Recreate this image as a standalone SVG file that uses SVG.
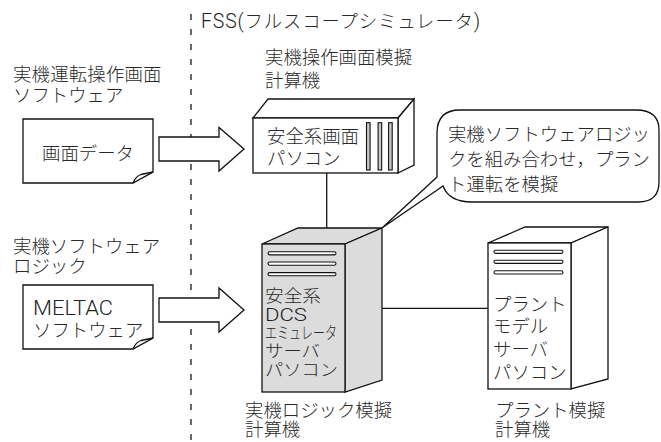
<svg xmlns="http://www.w3.org/2000/svg" width="661" height="442" viewBox="0 0 661 442">
  <style>
    text { font-family: "Liberation Sans", "Noto Sans CJK JP", sans-serif; font-size: 18.4px; font-weight: 300; fill: #2a2a2a; }
    .lat { font-family: Roboto, "Liberation Sans", sans-serif; font-size: 19.5px; font-weight: 300; fill: #222; }
    .srv { font-size: 16.6px; }
    .srvlat { font-size: 17.5px; }
    .ln { fill: none; stroke: #111; stroke-width: 1.3; }
    .shape { fill: #fff; stroke: #111; stroke-width: 1.3; stroke-linejoin: miter; }
    .grey { fill: #dcdcdc; stroke: #111; stroke-width: 1.3; }
    .vent { fill: #fff; stroke: #111; stroke-width: 1.1; }
    .slot { fill: #c8c8c8; stroke: #111; stroke-width: 1.1; }
    .boundary { stroke: #444; stroke-width: 1.6; stroke-dasharray: 6 9; fill: none; }
  </style>

  <!-- FSS boundary -->
  <line class="boundary" x1="191" y1="14" x2="191" y2="442"/>
  <text x="201" y="28" textLength="279" lengthAdjust="spacing"><tspan class="lat">FSS(</tspan>フルスコープシミュレータ<tspan class="lat">)</tspan></text>

  <!-- Connectors -->
  <g id="connectors">
    <line class="ln" x1="326.7" y1="173" x2="326.7" y2="237"/>
    <line class="ln" x1="358" y1="308.3" x2="488" y2="308.3"/>
    <path class="shape" d="M159,137 H219 V127.5 L244,149 L219,171 V161 H159 Z"/>
    <path class="shape" d="M159,298 H219 V288 L244,310 L219,332 V322 H159 Z"/>
  </g>

  <!-- Screen data document -->
  <g id="screen-data">
    <text x="13" y="80.5" textLength="148.5" lengthAdjust="spacing">実機運転操作画面</text>
    <text x="13" y="102">ソフトウェア</text>
    <path class="shape" d="M23,119 H153 V172 L133,183 H23 Z"/>
    <path class="ln" d="M133,183 Q136,176 141,174.5 L153,172"/>
    <text x="42" y="159.5">画面データ</text>
  </g>

  <!-- MELTAC software document -->
  <g id="meltac">
    <text x="13" y="252.5">実機ソフトウェア</text>
    <text x="13" y="272.5">ロジック</text>
    <path class="shape" d="M23,285 H153 V338 L133,349 H23 Z"/>
    <path class="ln" d="M133,349 Q136,342 141,340.5 L153,338"/>
    <text class="lat" x="33" y="315" textLength="80" lengthAdjust="spacingAndGlyphs">MELTAC</text>
    <text x="33" y="336.5">ソフトウェア</text>
  </g>

  <!-- Safety display PC -->
  <g id="safety-display-pc">
    <text x="265" y="64">実機操作画面模擬</text>
    <text x="265" y="87">計算機</text>
    <path class="shape" d="M253,118 L268,99 H414 L398,118 Z"/>
    <path class="shape" d="M398,118 L414,99 V165 L398,173 Z"/>
    <rect class="shape" x="253" y="118" width="145" height="55"/>
    <rect class="slot" x="366.5" y="122.7" width="3.6" height="47.3"/>
    <rect class="slot" x="378.1" y="122.7" width="3.6" height="47.3"/>
    <rect class="slot" x="388.6" y="122.7" width="3.6" height="47.3"/>
    <text x="267" y="143.3">安全系画面</text>
    <text x="267" y="165">パソコン</text>
  </g>

  <!-- Callout -->
  <g id="callout">
    <path class="shape" d="M437,177 L382,228 L443,186 Q449,202 472,202 H638 Q659,202 659,182 V130 Q659,110 636,110 H460 Q437,110 437,133 Z"/>
    <text x="448" y="141" textLength="202" lengthAdjust="spacing">実機ソフトウェアロジッ</text>
    <text x="448" y="166" textLength="202" lengthAdjust="spacing">クを組み合わせ，プラン</text>
    <text x="448" y="190.5">ト運転を模擬</text>
  </g>

  <!-- DCS emulator server -->
  <g id="dcs-server">
    <path class="grey" d="M262,244 L298,228 H382 L345,244 Z"/>
    <path class="grey" d="M345,244 L382,228 V380 L345,392 Z"/>
    <rect class="grey" x="262" y="244" width="83" height="148"/>
    <rect class="vent" x="268" y="251.7" width="68" height="3.2" rx="1.6"/>
    <rect class="vent" x="268" y="262" width="68" height="3.2" rx="1.6"/>
    <rect class="vent" x="268" y="272.6" width="68" height="3.2" rx="1.6"/>
    <text class="srv" x="265" y="301.5" textLength="56" lengthAdjust="spacingAndGlyphs">安全系</text>
    <text class="lat srvlat" x="265" y="321" textLength="42" lengthAdjust="spacingAndGlyphs">DCS</text>
    <text class="srv" x="265" y="339" textLength="72" lengthAdjust="spacingAndGlyphs">エミュレータ</text>
    <text class="srv" x="265" y="357" textLength="55" lengthAdjust="spacingAndGlyphs">サーバ</text>
    <text class="srv" x="265" y="376" textLength="73" lengthAdjust="spacingAndGlyphs">パソコン</text>
    <text x="245" y="417">実機ロジック模擬</text>
    <text x="245" y="436">計算機</text>
  </g>

  <!-- Plant model server -->
  <g id="plant-server">
    <path class="shape" d="M488,243 L525,227 H608 L571,243 Z"/>
    <path class="shape" d="M571,243 L608,227 V379 L571,389 Z"/>
    <rect class="shape" x="488" y="243" width="83" height="146"/>
    <rect class="vent" x="494" y="250.2" width="69" height="3.2" rx="1.6"/>
    <rect class="vent" x="494" y="260.2" width="69" height="3.2" rx="1.6"/>
    <rect class="vent" x="494" y="270.8" width="69" height="3.2" rx="1.6"/>
    <text x="493" y="311">プラント</text>
    <text x="493" y="333">モデル</text>
    <text x="493" y="356">サーバ</text>
    <text x="493" y="379">パソコン</text>
    <text x="495" y="417">プラント模擬</text>
    <text x="495" y="436">計算機</text>
  </g>
</svg>
